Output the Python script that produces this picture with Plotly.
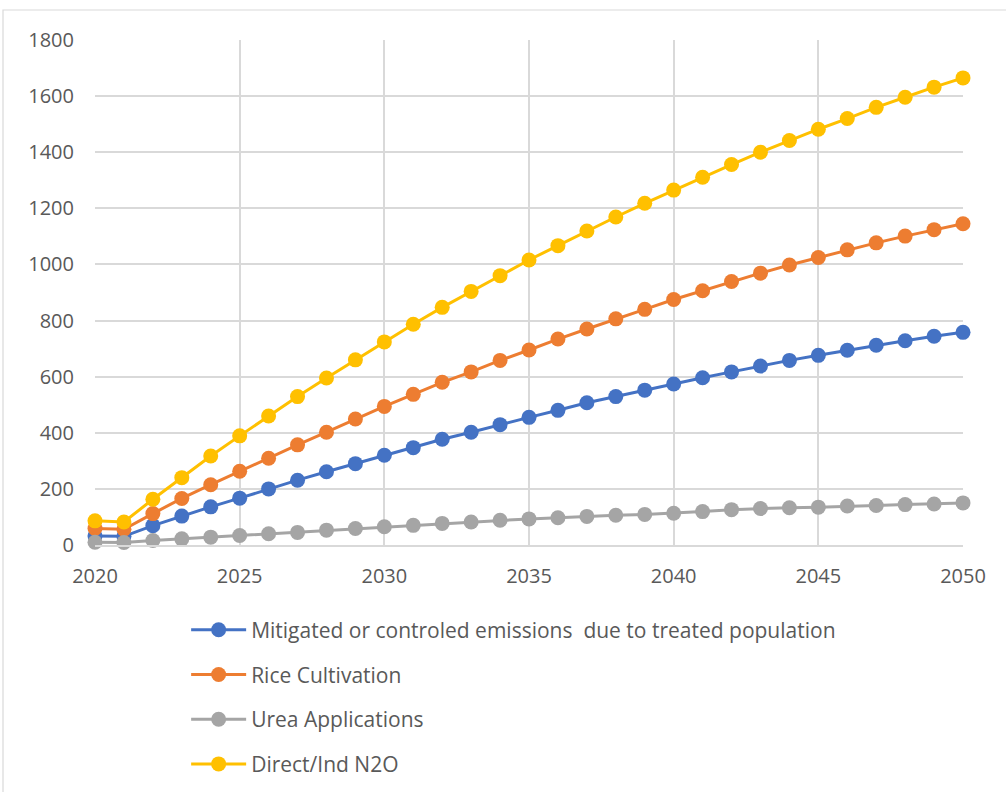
import plotly.graph_objects as go

years = list(range(2020, 2051))

mitigated = [32, 31, 69, 103, 136, 167, 200, 231, 261, 290, 320,
             347, 377, 402, 429, 455, 480, 507, 529, 552, 574,
             596, 617, 638, 658, 676, 694, 712, 728, 744, 758]
rice = [59, 56, 112, 166, 215, 263, 309, 357, 402, 449, 494,
        537, 580, 617, 658, 695, 734, 770, 806, 840, 875,
        906, 939, 969, 998, 1025, 1052, 1077, 1101, 1124, 1145]
urea = [10, 9, 16, 22, 28, 34, 40, 45, 53, 59, 65,
        70, 77, 82, 88, 93, 97, 102, 106, 109, 113,
        119, 126, 130, 133, 135, 139, 141, 144, 146, 150]
n2o = [86, 82, 163, 240, 317, 389, 460, 529, 595, 660, 724,
       787, 847, 904, 960, 1016, 1067, 1119, 1169, 1218, 1265,
       1311, 1356, 1400, 1442, 1482, 1520, 1560, 1596, 1632, 1665]

series = [
    ("Mitigated or controled emissions \u00a0due to treated population", mitigated, "#4472C4"),
    ("Rice Cultivation", rice, "#ED7D31"),
    ("Urea Applications", urea, "#A5A5A5"),
    ("Direct/Ind N2O", n2o, "#FFC000"),
]

x_ticks = [2020, 2025, 2030, 2035, 2040, 2045, 2050]
y_ticks = list(range(0, 1801, 200))

fig = go.Figure()
for i, (name, vals, color) in enumerate(series):
    fig.add_trace(go.Scatter(
        x=years, y=vals, name=name, mode="lines+markers",
        line=dict(color=color, width=3),
        marker=dict(color=color, size=15),
        legendgroup=f"g{i}", cliponaxis=False,
    ))

grid = "#D9D9D9"
fig.update_layout(
    width=1006, height=792,
    margin=dict(l=95, r=43, t=40, b=247, autoexpand=False),
    paper_bgcolor="white", plot_bgcolor="white",
    font=dict(family="Open Sans, Carlito, sans-serif", color="#595959", size=20),
    showlegend=True,
    legend=dict(
        orientation="v", x=0.105, y=-0.128, xanchor="left", yanchor="top",
        font=dict(size=21, color="#595959"),
        tracegroupgap=14.4, itemwidth=55,
        bgcolor="rgba(0,0,0,0)",
    ),
    xaxis=dict(
        range=[2020, 2050], tickvals=x_ticks, ticktext=[str(v) for v in x_ticks],
        showgrid=True, gridcolor=grid, gridwidth=1.5,
        showline=True, linecolor=grid, linewidth=1.5,
        zeroline=False, ticks="", ticklen=0,
        ticklabelstandoff=12,
    ),
    yaxis=dict(
        range=[0, 1800], tickvals=y_ticks, ticktext=[str(v) for v in y_ticks],
        showgrid=True, gridcolor=grid, gridwidth=1.5,
        showline=False, zeroline=False, ticks="", ticklen=0,
        ticklabelstandoff=20,
    ),
    shapes=[dict(
        type="rect", xref="paper", yref="paper",
        x0=-0.106, x1=1.2, y0=-0.8, y1=1.0594,
        line=dict(color="#D9D9D9", width=1.2), fillcolor="rgba(0,0,0,0)",
        layer="below",
    )],
)

fig.write_html("out.html")
